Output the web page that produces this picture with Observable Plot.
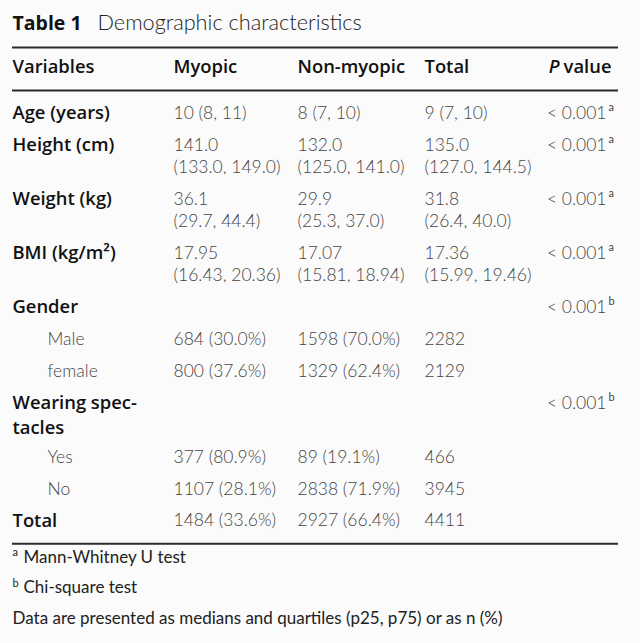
<!DOCTYPE html>
<html><head><meta charset="utf-8">
<script src="https://cdn.jsdelivr.net/npm/d3@7"></script>
<script src="https://cdn.jsdelivr.net/npm/@observablehq/plot@0.6"></script>
<style>html,body{margin:0;padding:0;background:#fbfbfb}svg{display:block}</style>
</head><body><div id="chart"></div>
<script>
// ---- data ----
const titleBold = "Table 1";
const titleText = "Demographic characteristics";
const headers = ["Variables", "Myopic", "Non-myopic", "Total", "P value"];
const variables = ["Age (years)", "Height (cm)", "Weight (kg)", "BMI (kg/m²)", "Gender", "Male", "female", "Wearing spec-\ntacles", "Yes", "No", "Total"];
const isSub = [false, false, false, false, false, true, true, false, true, true, false];
const myopic = ["10 (8, 11)", "141.0\n(133.0, 149.0)", "36.1\n(29.7, 44.4)", "17.95\n(16.43, 20.36)", "", "684 (30.0%)", "800 (37.6%)", "", "377 (80.9%)", "1107 (28.1%)", "1484 (33.6%)"];
const nonMyopic = ["8 (7, 10)", "132.0\n(125.0, 141.0)", "29.9\n(25.3, 37.0)", "17.07\n(15.81, 18.94)", "", "1598 (70.0%)", "1329 (62.4%)", "", "89 (19.1%)", "2838 (71.9%)", "2927 (66.4%)"];
const totals = ["9 (7, 10)", "135.0\n(127.0, 144.5)", "31.8\n(26.4, 40.0)", "17.36\n(15.99, 19.46)", "", "2282", "2129", "", "466", "3945", "4411"];
const pValues = ["< 0.001", "< 0.001", "< 0.001", "< 0.001", "< 0.001", "", "", "< 0.001", "", "", ""];
const pNotes = ["a", "a", "a", "a", "b", "", "", "b", "", "", ""];
const footMarks = ["a", "b", ""];
const footTexts = ["Mann-Whitney U test", "Chi-square test", "Data are presented as medians and quartiles (p25, p75) or as n (%)"];

// ---- layout ----
const W = 640, H = 643;
const FONT = "Lato, 'Open Sans', sans-serif";
const BOLD = "'Open Sans', Lato, sans-serif";
const colX = {label: 12, sub: 47, myopic: 173, non: 297, total: 424, pEnd: 606, pNote: 608, right: 618};
const titleY = 23, headerY = 67, firstRowY = 113, lineH = 22.3, labelLineH = 25, rowGap = 31.8, footY0 = 557, footGap = 30.5;

const lines = s => s === "" ? [] : s.split("\n");
const rowY = [];
let yy = firstRowY;
variables.forEach((v, i) => {
  rowY.push(yy);
  const n = Math.max(lines(v).length, lines(myopic[i]).length, lines(nonMyopic[i]).length, lines(totals[i]).length, 1);
  yy += (n - 1) * lineH + rowGap;
});
const lastRowY = rowY[rowY.length - 1];
const rules = [headerY - 20, headerY + 23, lastRowY + 23];

const labelCells = [], valueCells = [], pCells = [], noteCells = [];
variables.forEach((v, i) => {
  lines(v).forEach((t, k) => labelCells.push({x: isSub[i] ? colX.sub : colX.label, y: rowY[i] + k * labelLineH, text: t, sub: isSub[i]}));
  [[myopic, colX.myopic], [nonMyopic, colX.non], [totals, colX.total]].forEach(([arr, x]) =>
    lines(arr[i]).forEach((t, k) => valueCells.push({x, y: rowY[i] + k * lineH, text: t})));
  if (pValues[i]) {
    pCells.push({x: colX.pEnd, y: rowY[i], text: pValues[i]});
    noteCells.push({x: colX.pNote, y: rowY[i] - 6, text: pNotes[i]});
  }
});
const footCells = footTexts.map((t, i) => ({y: footY0 + i * footGap, text: t, mark: footMarks[i]}));

const chart = Plot.plot({
  width: W, height: H, margin: 0,
  x: {domain: [0, W], range: [0, W], axis: null},
  y: {domain: [0, H], range: [0, H], axis: null},
  style: {background: "#fbfbfb", fontFamily: FONT},
  marks: [
    Plot.ruleY(rules, {x1: colX.label, x2: colX.right, stroke: "#2b2b2b", strokeWidth: 2}),
    Plot.text([titleBold], {x: colX.label, y: titleY, text: d => d, textAnchor: "start", fontSize: 19.5, fontWeight: "bold", fill: "#111", fontFamily: BOLD}),
    Plot.text([titleText], {x: 97, y: titleY, text: d => d, textAnchor: "start", fontSize: 21.7, fontWeight: 300, fill: "#222", fontFamily: FONT}),
    Plot.text(headers.slice(0, 4), {x: (d, i) => [colX.label, colX.myopic, colX.non, colX.total][i], y: headerY, text: d => d, textAnchor: "start", fontSize: 18.4, fontWeight: 600, fill: "#111", fontFamily: BOLD}),
    Plot.text(["value"], {x: colX.pEnd + 5, y: headerY, text: d => d, textAnchor: "end", fontSize: 18.4, fontWeight: 600, fill: "#111", fontFamily: BOLD}),
    Plot.text(["P"], {x: colX.pEnd - 47, y: headerY, text: d => d, textAnchor: "end", fontSize: 18.4, fontWeight: 600, fontStyle: "italic", fill: "#111", fontFamily: BOLD}),
    Plot.text(labelCells.filter(d => !d.sub), {x: "x", y: "y", text: "text", textAnchor: "start", fontSize: 18.4, fontWeight: 600, fill: "#111", fontFamily: BOLD}),
    Plot.text(labelCells.filter(d => d.sub), {x: "x", y: "y", text: "text", textAnchor: "start", fontSize: 17.5, fontWeight: 300, fill: "#444", fontFamily: FONT}),
    Plot.text(valueCells, {x: "x", y: "y", text: "text", textAnchor: "start", fontSize: 17.5, fontWeight: 300, fill: "#444", fontFamily: FONT}),
    Plot.text(pCells, {x: "x", y: "y", text: "text", textAnchor: "end", fontSize: 17.5, fontWeight: 300, fill: "#444", fontFamily: FONT}),
    Plot.text(noteCells, {x: "x", y: "y", text: "text", textAnchor: "start", fontSize: 11, fill: "#444", fontFamily: FONT}),
    Plot.text(footCells, {x: d => colX.label + (d.mark ? 11 : 0), y: "y", text: "text", textAnchor: "start", fontSize: 17, fill: "#222", fontFamily: FONT}),
    Plot.text(footCells.filter(d => d.mark), {x: colX.label, y: d => d.y - 5, text: "mark", textAnchor: "start", fontSize: 11, fill: "#222", fontFamily: FONT})
  ]
});
document.getElementById("chart").append(chart);
</script></body></html>
